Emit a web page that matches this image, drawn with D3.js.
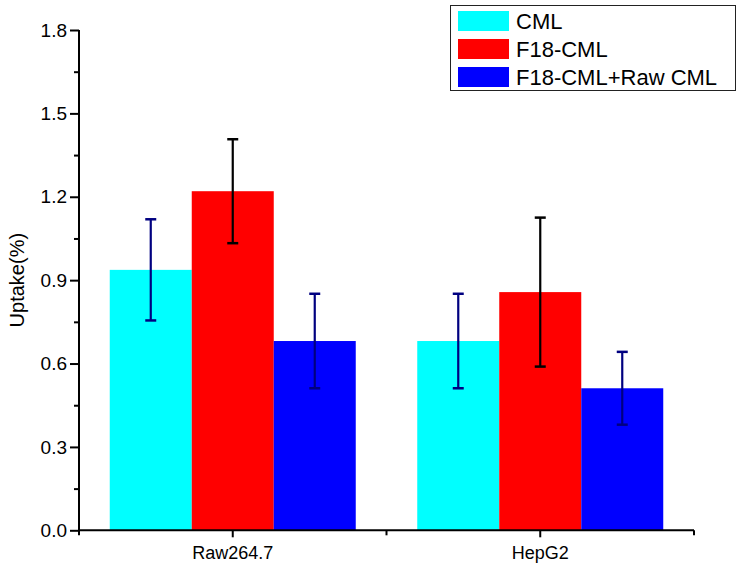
<!DOCTYPE html>
<html>
<head>
<meta charset="utf-8">
<script src="https://cdn.jsdelivr.net/npm/d3@7"></script>
<style>
  html, body { margin: 0; padding: 0; background: #fff; }
  svg { display: block; font-family: "Liberation Sans", Arial, sans-serif; }
</style>
</head>
<body>
<svg id="chart" width="742" height="569"></svg>
<script>
// ---- data ----
const categories = ["Raw264.7", "HepG2"];
const seriesNames = ["CML", "F18-CML", "F18-CML+Raw CML"];
const cmlValues = [0.937, 0.681];
const f18Values = [1.220, 0.857];
const f18RawValues = [0.681, 0.511];
const cmlErrors = [0.182, 0.170];
const f18Errors = [0.187, 0.268];
const f18RawErrors = [0.170, 0.131];
const yTickValues = [0, 0.3, 0.6, 0.9, 1.2, 1.5, 1.8];
const yMinorTickValues = [0.15, 0.45, 0.75, 1.05, 1.35, 1.65];

const seriesColors = ["#00FFFF", "#FF0000", "#0000FF"];
const errorColors = ["#000080", "#000000", "#000080"];

const seriesValues = [cmlValues, f18Values, f18RawValues];
const seriesErrors = [cmlErrors, f18Errors, f18RawErrors];

// ---- layout ----
const svg = d3.select("#chart");
const mLeft = 79, mRight = 694, mTop = 30, mBottom = 530.3;

const x0 = d3.scaleBand().domain(categories).range([mLeft, mRight]).paddingInner(0).paddingOuter(0);
const bw = x0.bandwidth();
const x1 = d3.scaleBand().domain(seriesNames).range([bw * 0.1, bw * 0.9]).padding(0);
const y = d3.scaleLinear().domain([0, 1.8]).range([mBottom, mTop]);

// ---- bars ----
const rows = [];
categories.forEach((c, ci) => {
  seriesNames.forEach((s, si) => {
    rows.push({ cat: c, series: s, si, v: seriesValues[si][ci], e: seriesErrors[si][ci] });
  });
});

svg.append("g").selectAll("rect").data(rows).join("rect")
  .attr("x", d => x0(d.cat) + x1(d.series))
  .attr("y", d => y(d.v))
  .attr("width", x1.bandwidth())
  .attr("height", d => y(0) - y(d.v))
  .attr("fill", d => seriesColors[d.si]);

// ---- error bars ----
const eg = svg.append("g");
rows.forEach(d => {
  const cx = x0(d.cat) + x1(d.series) + x1.bandwidth() / 2;
  const col = errorColors[d.si];
  eg.append("line").attr("x1", cx).attr("x2", cx)
    .attr("y1", y(d.v + d.e)).attr("y2", y(d.v - d.e))
    .attr("stroke", col).attr("stroke-width", 2.2);
  [d.v + d.e, d.v - d.e].forEach(v => {
    eg.append("line").attr("x1", cx - 5.5).attr("x2", cx + 5.5)
      .attr("y1", y(v)).attr("y2", y(v))
      .attr("stroke", col).attr("stroke-width", 2.5);
  });
});

// ---- y axis ----
const yAxis = d3.axisLeft(y).tickValues(yTickValues).tickFormat(d3.format(".1f")).tickSize(9).tickPadding(3);
const yg = svg.append("g").attr("transform", `translate(${mLeft},0)`).call(yAxis);
yg.select(".domain").attr("stroke", "#000").attr("stroke-width", 2).attr("d", `M0,${mTop}V${mBottom}`);
yg.selectAll(".tick line").attr("stroke", "#000").attr("stroke-width", 2);
yg.selectAll(".tick text").attr("font-size", 19).attr("fill", "#000")
  .attr("font-family", "'Liberation Sans', Arial, sans-serif");
const yMinor = d3.axisLeft(y).tickValues(yMinorTickValues).tickSize(5).tickFormat("");
const ymg = svg.append("g").attr("transform", `translate(${mLeft},0)`).call(yMinor);
ymg.select(".domain").remove();
ymg.selectAll(".tick line").attr("stroke", "#000").attr("stroke-width", 2);

// ---- x axis ----
const xAxis = d3.axisBottom(x0).tickSize(7).tickPadding(9);
const xg = svg.append("g").attr("transform", `translate(0,${mBottom})`).call(xAxis);
xg.select(".domain").attr("stroke", "#000").attr("stroke-width", 2).attr("d", `M${mLeft},0H${mRight}`);
xg.selectAll(".tick line").attr("stroke", "#000").attr("stroke-width", 2);
xg.selectAll(".tick text").attr("font-size", 18).attr("fill", "#000")
  .attr("font-family", "'Liberation Sans', Arial, sans-serif");
// minor ticks at band edges
const edges = [x0.range()[0], ...categories.slice(1).map(c => x0(c)), x0.range()[1]];
svg.append("g").selectAll("line").data(edges).join("line")
  .attr("x1", d => d).attr("x2", d => d)
  .attr("y1", mBottom).attr("y2", mBottom + 5)
  .attr("stroke", "#000").attr("stroke-width", 2);

// ---- y title ----
svg.append("text")
  .attr("transform", `translate(24,${(mTop + mBottom) / 2}) rotate(-90)`)
  .attr("text-anchor", "middle")
  .attr("font-size", 20)
  .attr("fill", "#000")
  .text("Uptake(%)");

// ---- legend ----
const lg = svg.append("g");
lg.append("rect").attr("x", 450.5).attr("y", 5.5).attr("width", 285).attr("height", 85)
  .attr("fill", "#fff").attr("stroke", "#222").attr("stroke-width", 1);
seriesNames.forEach((s, i) => {
  lg.append("rect").attr("x", 458).attr("y", 11 + i * 28).attr("width", 51).attr("height", 20)
    .attr("fill", seriesColors[i]);
  lg.append("text").attr("x", 516).attr("y", 29 + i * 28)
    .attr("font-size", 22).attr("fill", "#000").text(s);
});
</script>
</body>
</html>
